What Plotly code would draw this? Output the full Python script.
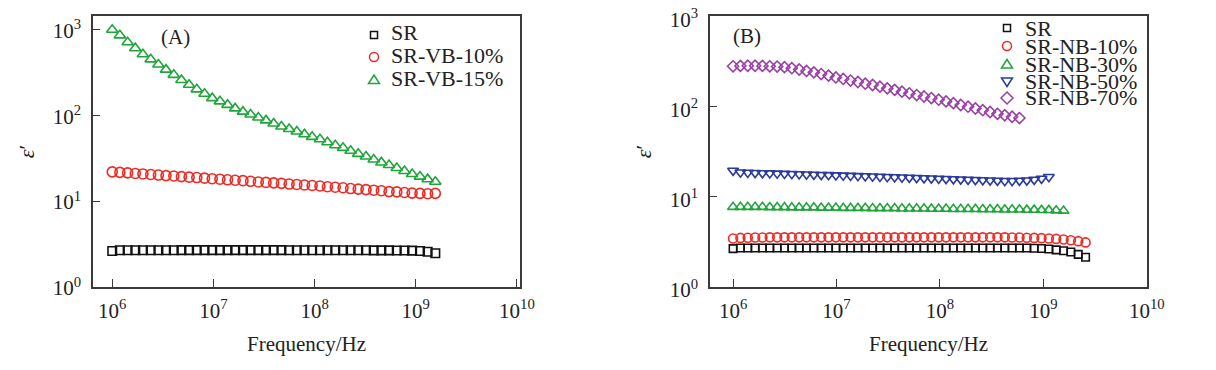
import plotly.graph_objects as go

# ---------------- data ----------------
freq_a = [1.00e6, 1.19e6, 1.42e6, 1.69e6, 2.01e6, 2.40e6, 2.86e6, 3.40e6, 4.06e6, 4.83e6,
          5.75e6, 6.85e6, 8.17e6, 9.73e6, 1.16e7, 1.38e7, 1.64e7, 1.96e7, 2.33e7, 2.78e7,
          3.31e7, 3.94e7, 4.70e7, 5.60e7, 6.67e7, 7.94e7, 9.46e7, 1.13e8, 1.34e8, 1.60e8,
          1.91e8, 2.27e8, 2.70e8, 3.22e8, 3.84e8, 4.57e8, 5.44e8, 6.49e8, 7.73e8, 9.20e8,
          1.10e9, 1.31e9, 1.56e9]

sr_a = [2.62, 2.68, 2.68, 2.68, 2.68, 2.68, 2.68, 2.68, 2.68, 2.69,
        2.69, 2.69, 2.69, 2.69, 2.69, 2.69, 2.69, 2.69, 2.69, 2.69,
        2.69, 2.69, 2.69, 2.68, 2.68, 2.68, 2.68, 2.68, 2.68, 2.68,
        2.68, 2.68, 2.68, 2.68, 2.67, 2.67, 2.67, 2.66, 2.66, 2.65,
        2.62, 2.57, 2.47]

vb10_a = [21.9, 21.6, 21.3, 21.0, 20.7, 20.4, 20.1, 19.8, 19.6, 19.3,
          19.0, 18.8, 18.5, 18.2, 18.0, 17.7, 17.5, 17.3, 17.0, 16.7,
          16.5, 16.3, 16.1, 15.8, 15.6, 15.4, 15.2, 15.0, 14.7, 14.5,
          14.3, 14.0, 13.8, 13.6, 13.4, 13.2, 12.9, 12.8, 12.6, 12.4,
          12.3, 12.2, 12.3]

vb15_a = [990, 851, 708, 603, 513, 447, 389, 339, 295, 257,
          226, 200, 178, 158, 145, 132, 120, 110, 102, 94,
          87, 80, 74, 69, 64.5, 60, 56, 52.5, 48.4, 44.7,
          41.7, 38.5, 35.5, 33.1, 30.5, 28.2, 26.3, 24.3, 22.4, 20.7,
          19.3, 18.0, 16.8]

freq_b = [1.000e6, 1.178e6, 1.387e6, 1.633e6, 1.923e6, 2.265e6, 2.667e6, 3.141e6, 3.698e6, 4.355e6,
          5.129e6, 6.039e6, 7.112e6, 8.375e6, 9.863e6, 1.161e7, 1.368e7, 1.611e7, 1.897e7, 2.234e7,
          2.630e7, 3.097e7, 3.648e7, 4.295e7, 5.058e7, 5.957e7, 7.015e7, 8.260e7, 9.727e7, 1.146e8,
          1.349e8, 1.589e8, 1.871e8, 2.203e8, 2.594e8, 3.055e8, 3.597e8, 4.236e8, 4.989e8, 5.875e8,
          6.918e8, 8.147e8, 9.594e8, 1.130e9, 1.330e9, 1.567e9, 1.845e9, 2.173e9, 2.559e9]

sr_b = [2.66, 2.70, 2.70, 2.70, 2.70, 2.70, 2.70, 2.70, 2.70, 2.70,
        2.70, 2.70, 2.70, 2.70, 2.70, 2.71, 2.71, 2.71, 2.71, 2.71,
        2.71, 2.71, 2.71, 2.71, 2.71, 2.71, 2.70, 2.70, 2.70, 2.70,
        2.70, 2.70, 2.70, 2.70, 2.70, 2.70, 2.70, 2.70, 2.70, 2.70,
        2.70, 2.69, 2.67, 2.64, 2.58, 2.52, 2.44, 2.30, 2.14]

nb10_b = [3.45, 3.50, 3.52, 3.53, 3.54, 3.55, 3.55, 3.55, 3.55, 3.55,
          3.55, 3.55, 3.55, 3.55, 3.55, 3.55, 3.55, 3.55, 3.55, 3.55,
          3.55, 3.55, 3.55, 3.55, 3.55, 3.55, 3.55, 3.55, 3.55, 3.55,
          3.55, 3.55, 3.55, 3.55, 3.55, 3.55, 3.55, 3.55, 3.54, 3.53,
          3.52, 3.50, 3.48, 3.45, 3.41, 3.36, 3.30, 3.22, 3.12]

nb30_b = [7.7, 7.7, 7.7, 7.7, 7.7, 7.65, 7.65, 7.65, 7.6, 7.6,
          7.6, 7.6, 7.55, 7.55, 7.55, 7.5, 7.5, 7.5, 7.5, 7.45,
          7.45, 7.45, 7.45, 7.4, 7.4, 7.4, 7.4, 7.35, 7.35, 7.35,
          7.3, 7.3, 7.3, 7.3, 7.25, 7.25, 7.25, 7.2, 7.2, 7.2,
          7.15, 7.15, 7.1, 7.1, 7.05, 7.0]

nb50_b = [19.5, 18.6, 18.5, 18.4, 18.3, 18.2, 18.1, 18.0, 17.9, 17.8,
          17.7, 17.6, 17.5, 17.4, 17.3, 17.2, 17.1, 17.0, 16.9, 16.8,
          16.7, 16.6, 16.5, 16.4, 16.3, 16.2, 16.1, 16.0, 15.9, 15.8,
          15.7, 15.6, 15.5, 15.4, 15.3, 15.2, 15.1, 15.0, 15.0, 15.1,
          15.2, 15.5, 15.9, 16.6]

nb70_b = [279, 282, 283, 283, 282, 279, 277, 273, 266, 257,
          248, 239, 229, 220, 210, 202, 194, 187, 179, 173,
          166, 159, 153, 146, 140, 134, 129, 124, 119, 114,
          109, 104, 99.5, 95, 91, 87, 83, 80, 77, 74.5]

x_tickvals = [1e6, 1e7, 1e8, 1e9, 1e10]
x_ticktext = ["10<sup>6</sup>", "10<sup>7</sup>", "10<sup>8</sup>", "10<sup>9</sup>", "10<sup>10</sup>"]
y_tickvals = [1, 10, 100, 1000]
y_ticktext = ["10<sup>0</sup>", "10<sup>1</sup>", "10<sup>2</sup>", "10<sup>3</sup>"]

# ---------------- styles ----------------
W, H = 1216, 370
OFF = 8  # page body margin shifts the figure by this many pixels
FONT = "Liberation Serif"
TXT = "#222222"
BLACK = "#111111"
RED = "#ee2a24"
GREEN = "#20a53c"
BLUE = "#2b3a9e"
PURPLE = "#9a3fa6"
FRAME = "#3a3a3a"


def px(x):
    return (x - OFF) / W


def py(y):
    return 1 - (y - OFF) / H


series_a = [
    ("SR", sr_a, "square-open", BLACK, 8.5),
    ("SR-VB-10%", vb10_a, "circle-open", RED, 10),
    ("SR-VB-15%", vb15_a, "triangle-up-open", GREEN, 10),
]
series_b = [
    ("SR", sr_b, "square-open", BLACK, 7.5),
    ("SR-NB-10%", nb10_b, "circle-open", RED, 9),
    ("SR-NB-30%", nb30_b, "triangle-up-open", GREEN, 9.5),
    ("SR-NB-50%", nb50_b, "triangle-down-open", BLUE, 9.5),
    ("SR-NB-70%", nb70_b, "diamond-open", PURPLE, 8.5),
]

fig = go.Figure()
for name, vals, sym, col, size in series_a:
    fig.add_trace(go.Scatter(
        x=freq_a[:len(vals)], y=vals, mode="markers", name=name, showlegend=False,
        xaxis="x", yaxis="y",
        marker=dict(symbol=sym, size=size, color=col, line=dict(width=1.6, color=col))))
for name, vals, sym, col, size in series_b:
    fig.add_trace(go.Scatter(
        x=freq_b[:len(vals)], y=vals, mode="markers", name=name, showlegend=False,
        xaxis="x2", yaxis="y2",
        marker=dict(symbol=sym, size=size, color=col, line=dict(width=1.6, color=col))))

tickfont = dict(family=FONT, size=21, color=TXT)
titlefont = dict(family=FONT, size=21, color=TXT)


def xax(domain, rng, anchor):
    return dict(type="log", domain=domain, range=rng, anchor=anchor, automargin=False,
                tickmode="array", tickvals=x_tickvals, ticktext=x_ticktext,
                ticks="inside", ticklen=8, tickwidth=1.3, tickcolor=FRAME,
                showline=True, linecolor=FRAME, linewidth=1.5, mirror=True,
                showgrid=False, zeroline=False, tickfont=tickfont,
                ticklabelstandoff=4, ticklabeloverflow="allow",
                title=dict(text="Frequency/Hz", font=titlefont, standoff=14))


def yax(domain, rng, anchor, shift):
    return dict(type="log", domain=domain, range=rng, anchor=anchor, automargin=False,
                tickmode="array", tickvals=y_tickvals, ticktext=y_ticktext,
                ticks="inside", ticklen=7, tickwidth=1.3, tickcolor=FRAME,
                showline=True, linecolor=FRAME, linewidth=1.5, mirror=True,
                showgrid=False, zeroline=False, tickfont=tickfont,
                ticklabelstandoff=6, ticklabeloverflow="allow", ticklabelshift=shift,
                title=dict(text="<i>ε</i>′", font=dict(family=FONT, size=22, color=TXT),
                           standoff=12))


ydom = [py(287), py(16)]
fig.update_layout(
    width=W, height=H,
    margin=dict(l=0, r=0, t=0, b=0),
    paper_bgcolor="white", plot_bgcolor="white",
    xaxis=xax([px(93), px(520)], [5.81, 10.03], "y"),
    yaxis=yax(ydom, [0, 3.155], "x", 1),
    xaxis2=xax([px(710), px(1147)], [5.777, 10.002], "y2"),
    yaxis2=yax(ydom, [0, 3.003], "x2", 3),
    showlegend=False,
)

# ---------------- panel labels ----------------
annotations = [
    dict(text="(A)", x=px(175), y=py(37), xref="paper", yref="paper",
         showarrow=False, font=dict(family=FONT, size=21, color=TXT),
         xanchor="center", yanchor="middle"),
    dict(text="(B)", x=px(747), y=py(36), xref="paper", yref="paper",
         showarrow=False, font=dict(family=FONT, size=21, color=TXT),
         xanchor="center", yanchor="middle"),
]

# ---------------- legends (keys drawn as shapes, labels as text) ----------------
shapes = []


def key_shape(kind, cx, cy, col):
    base = dict(xref="paper", yref="paper", xsizemode="pixel", ysizemode="pixel",
                xanchor=px(cx), yanchor=py(cy), line=dict(color=col, width=1.5),
                fillcolor="rgba(0,0,0,0)")
    if kind == "square-open":
        return dict(base, type="rect", x0=-3.5, x1=3.5, y0=-3.5, y1=3.5)
    if kind == "circle-open":
        return dict(base, type="circle", x0=-4.5, x1=4.5, y0=-4.5, y1=4.5)
    if kind == "triangle-up-open":
        return dict(base, type="path", path="M-5.5,-3.5 L5.5,-3.5 L0,5 Z")
    if kind == "triangle-down-open":
        return dict(base, type="path", path="M-5.5,3.5 L5.5,3.5 L0,-5 Z")
    return dict(base, type="path", path="M0,6 L6,0 L0,-6 L-6,0 Z")


legend_a_rows = [35, 57, 80]
legend_a_text = [33, 55, 78]
legend_b_rows = [28, 46, 64.5, 81.5, 98]
for (name, _, sym, col, _), ry, ty in zip(series_a, legend_a_rows, legend_a_text):
    shapes.append(key_shape(sym, 374, ry, col))
    annotations.append(dict(text=name, x=px(389), y=py(ty), xref="paper", yref="paper",
                            showarrow=False, xanchor="left", yanchor="middle",
                            font=dict(family=FONT, size=22, color=TXT)))
for (name, _, sym, col, _), ry in zip(series_b, legend_b_rows):
    shapes.append(key_shape(sym, 1007, ry, col))
    annotations.append(dict(text=name, x=px(1023), y=py(ry), xref="paper", yref="paper",
                            showarrow=False, xanchor="left", yanchor="middle",
                            font=dict(family=FONT, size=22, color=TXT)))

fig.update_layout(annotations=annotations, shapes=shapes)
fig.write_html("out.html")
